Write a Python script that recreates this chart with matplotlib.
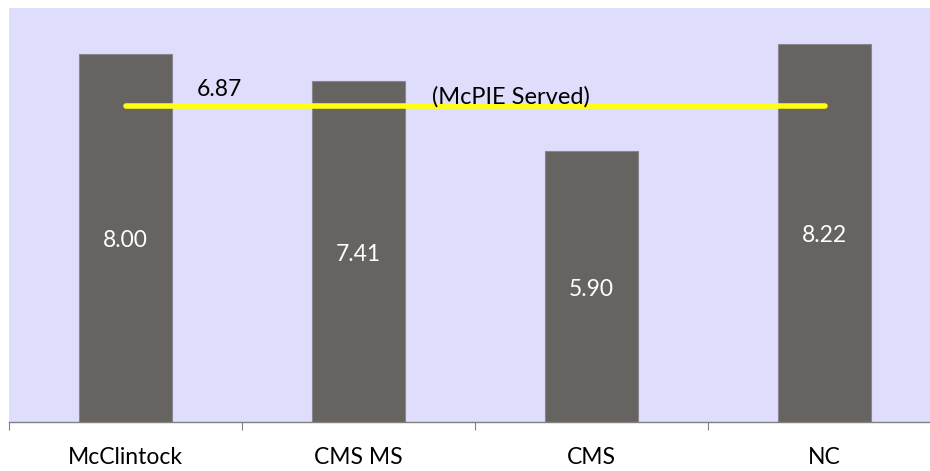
import matplotlib.pyplot as plt

categories = ["McClintock", "CMS MS", "CMS", "NC"]
values = [8.00, 7.41, 5.90, 8.22]
value_labels = ["8.00", "7.41", "5.90", "8.22"]
served_value = 6.87
served_label = "6.87"
served_text = "(McPIE Served)"

plt.rcParams['font.family'] = ['Lato', 'DejaVu Sans']

fig = plt.figure(figsize=(9.30, 4.71), dpi=100)
W, H = 930.0, 471.0
# plot area in pixels: left 9, right 941 (runs past the image edge), top 8, bottom 422
ax = fig.add_axes([9 / W, (H - 422) / H, (941 - 9) / W, (422 - 8) / H])
ax.set_facecolor('#DEDEFC')

x = list(range(len(categories)))
ax.bar(x, values, width=0.4, color='#676361', edgecolor='#8a8690', linewidth=0.8, zorder=2)

for xi, v, lab in zip(x, values, value_labels):
    ax.text(xi, v / 2 - 0.06, lab, color='white', ha='center', va='center', fontsize=16.5, zorder=4)

ax.plot([x[0], x[-1]], [served_value, served_value], color='#FFFF14', linewidth=4,
        solid_capstyle='round', zorder=3)
ax.text(0.305, served_value + 0.13, served_label, ha='left', va='bottom', fontsize=16.5, zorder=4)
ax.text(1.655, served_value - 0.04, served_text, ha='center', va='bottom', fontsize=17, zorder=4)

ax.set_xlim(-0.5, 3.5)
ax.set_ylim(0, 9)
ax.set_yticks([])
ax.set_xticks([-0.5, 0.5, 1.5, 2.5, 3.5])
ax.set_xticklabels([])
ax.set_xticks(x, minor=True)
ax.set_xticklabels(categories, minor=True, fontsize=16.5)
ax.tick_params(axis='x', which='major', length=6, color='#808080', direction='out')
ax.tick_params(axis='x', which='minor', length=0, pad=18)
for side in ['top', 'right', 'left']:
    ax.spines[side].set_visible(False)
ax.spines['bottom'].set_color('#808080')
ax.spines['bottom'].set_linewidth(1)

fig.savefig('out.png', dpi=100)
